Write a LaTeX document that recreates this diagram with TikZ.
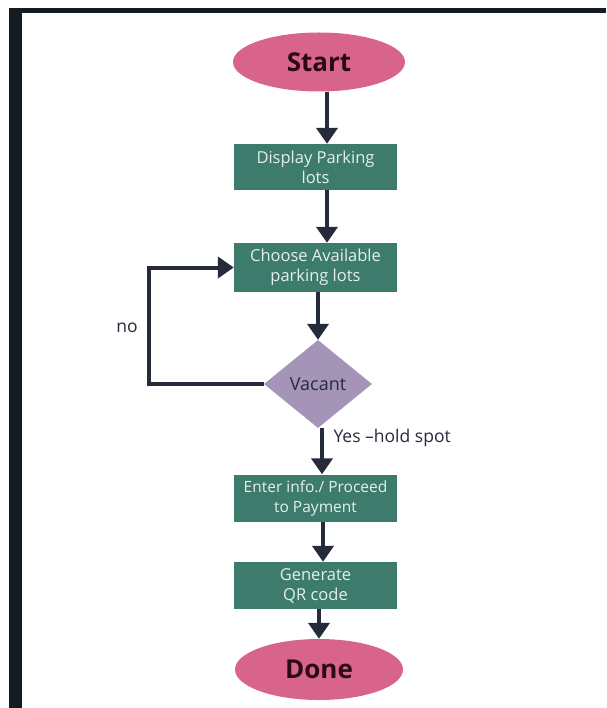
\documentclass[tikz,border=0pt]{standalone}
\usepackage{fontspec}
\setmainfont{Open Sans}
\usetikzlibrary{shapes.geometric,arrows.meta,calc}
\definecolor{framedark}{HTML}{141B23}
\definecolor{termpink}{HTML}{D9648B}
\definecolor{termtext}{HTML}{2B0A16}
\definecolor{boxteal}{HTML}{3D7B6C}
\definecolor{boxtext}{HTML}{E4F0EC}
\definecolor{decilav}{HTML}{A394B8}
\definecolor{flowdark}{HTML}{262B3B}
\tikzset{
  terminal/.style={ellipse,fill=termpink,inner sep=0pt,text=termtext,font=\fontsize{26}{30}\selectfont\bfseries},
  process/.style={rectangle,fill=boxteal,inner sep=0pt,minimum width=163pt,text=boxtext,align=center,font=\fontsize{16.5}{20}\selectfont},
  decision/.style={diamond,fill=decilav,inner sep=0pt,minimum width=108pt,minimum height=88pt,text=flowdark,font=\fontsize{18}{21}\selectfont},
  flow/.style={draw=flowdark,line width=4pt,-{Triangle[width=21pt,length=16pt]}},
  lbl/.style={text=flowdark,font=\fontsize{17.5}{20}\selectfont}
}
\begin{document}
\begin{tikzpicture}[x=1pt,y=-1pt]
	\useasboundingbox (0,0) rectangle (606,708);
	\fill[white] (0,0) rectangle (606,708);
	% dark frame top and left
	\fill[framedark] (9,8) rectangle (606,13);
	\fill[framedark] (9,8) rectangle (22,708);
	% nodes
	\node[terminal,minimum width=172pt,minimum height=59pt] (start) at (319,62) {Start};
	\node[process,minimum height=46pt] (display) at (315.5,167) {Display Parking\\lots};
	\node[process,minimum height=49pt] (choose) at (315.5,267.5) {Choose Available\\parking lots};
	\node[decision] (vacant) at (318,384) {Vacant};
	\node[process,minimum height=47pt,font=\fontsize{15.5}{20}\selectfont] (enter) at (315.5,498) {Enter info./ Proceed\\to Payment};
	\node[process,minimum height=47pt] (qrcode) at (315.5,585.5) {Generate\\QR code};
	\node[terminal,minimum width=168pt,minimum height=61pt] (done) at (319,669.5) {Done};
	% connectors
	\draw[flow] ([xshift=8pt]start.south) -- ([xshift=8pt]start.south |- display.north);
	\draw[flow] ([xshift=11.5pt]display.south) -- ([xshift=11.5pt]display.south |- choose.north);
	\draw[flow] (choose.south -| vacant.north) -- (vacant.north);
	\draw[flow] ([xshift=4pt]vacant.south) -- ([xshift=4pt]vacant.south |- enter.north);
	\draw[flow] ([xshift=7.5pt]enter.south) -- ([xshift=7.5pt]enter.south |- qrcode.north);
	\draw[flow] (qrcode.south -| done.north) -- (done.north);
	\draw[flow] (vacant.west) -- ++(-115,0) coordinate (loopcorner) |- (choose.west);
	% labels
	\node[lbl] (nolbl) at (127,328) {no};
	\node[lbl,anchor=west] (yeslbl) at (330,438) {Yes –hold spot};
\end{tikzpicture}
\end{document}
